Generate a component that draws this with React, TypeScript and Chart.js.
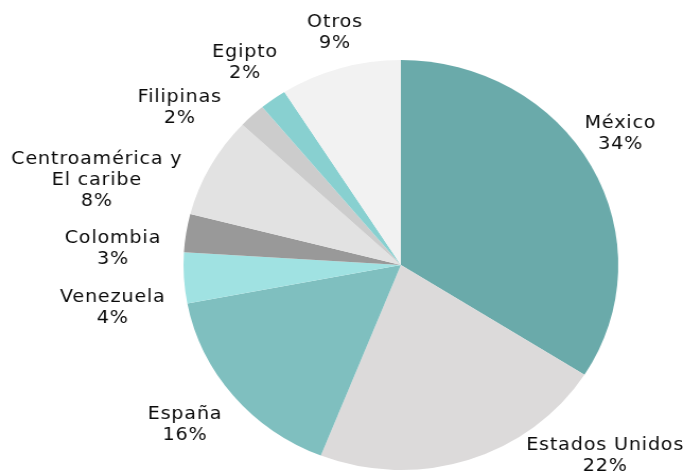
import React, { useEffect, useRef } from "react";
import { Chart, registerables } from "chart.js";

Chart.register(...registerables);

const categories = [
  "México",
  "Estados Unidos",
  "España",
  "Venezuela",
  "Colombia",
  "Centroamérica y\nEl caribe",
  "Filipinas",
  "Egipto",
  "Otros",
];
const shares = [34, 22, 16, 4, 3, 8, 2, 2, 9];
const sliceColors = [
  "#6aaaaa",
  "#dcdada",
  "#7fbfbf",
  "#a0e2e2",
  "#999999",
  "#e2e2e2",
  "#cccccc",
  "#88d0d0",
  "#f2f2f2",
];
// label placement relative to each slice: angle shift (deg) and distance beyond the rim (px)
const labelShift = [-3.5, -27.3, 1.4, -5.4, -5.6, -12.3, -9.8, 0, 1.2];
const labelExtra = [40, 66, 54, 70, 67, 94, 56, 45, 35];

const STRETCH = 1.0605;
const W = 645;
const H = 473;

const labelPlugin = {
  id: "outsideLabels",
  afterDraw(chart: any) {
    const ctx = chart.ctx;
    const meta = chart.getDatasetMeta(0);
    ctx.save();
    ctx.fillStyle = "#0a0a0a";
    ctx.font = "18px 'DejaVu Sans'";
    try {
      (ctx as any).letterSpacing = "0.8px";
    } catch (e) {}
    ctx.textAlign = "center";
    ctx.textBaseline = "middle";
    const lineH = 21;
    meta.data.forEach((arc: any, i: number) => {
      const p = arc.getProps(["x", "y", "startAngle", "endAngle", "outerRadius"], true);
      const mid = (p.startAngle + p.endAngle) / 2 + (labelShift[i] * Math.PI) / 180;
      const r = p.outerRadius + labelExtra[i];
      const cx = p.x + Math.cos(mid) * r;
      const cy = p.y + Math.sin(mid) * r;
      const lines = categories[i].split("\n").concat([shares[i] + "%"]);
      const top = cy - ((lines.length - 1) * lineH) / 2;
      lines.forEach((ln, k) => ctx.fillText(ln, cx, top + k * lineH));
    });
    ctx.restore();
  },
};

export default function App() {
  const ref = useRef<HTMLCanvasElement | null>(null);
  useEffect(() => {
    document.body.style.margin = "0";
    const canvas = ref.current!;
    const chart = new Chart(canvas, {
      type: "pie",
      data: {
        labels: categories,
        datasets: [
          {
            data: shares,
            backgroundColor: sliceColors,
            borderWidth: 0,
          },
        ],
      },
      options: {
        responsive: false,
        animation: false,
        layout: { padding: { left: 173, right: 62, top: 60, bottom: 3 } },
        plugins: {
          legend: { display: false },
          tooltip: { enabled: false },
        },
      },
      plugins: [labelPlugin],
    });
    return () => chart.destroy();
  }, []);
  return (
    <div style={{ width: 684, height: H, overflow: "hidden", background: "#fff" }}>
      <canvas
        ref={ref}
        width={W}
        height={H}
        style={{
          width: W,
          height: H,
          display: "block",
          transform: `scaleX(${STRETCH})`,
          transformOrigin: "0 0",
        }}
      />
    </div>
  );
}
